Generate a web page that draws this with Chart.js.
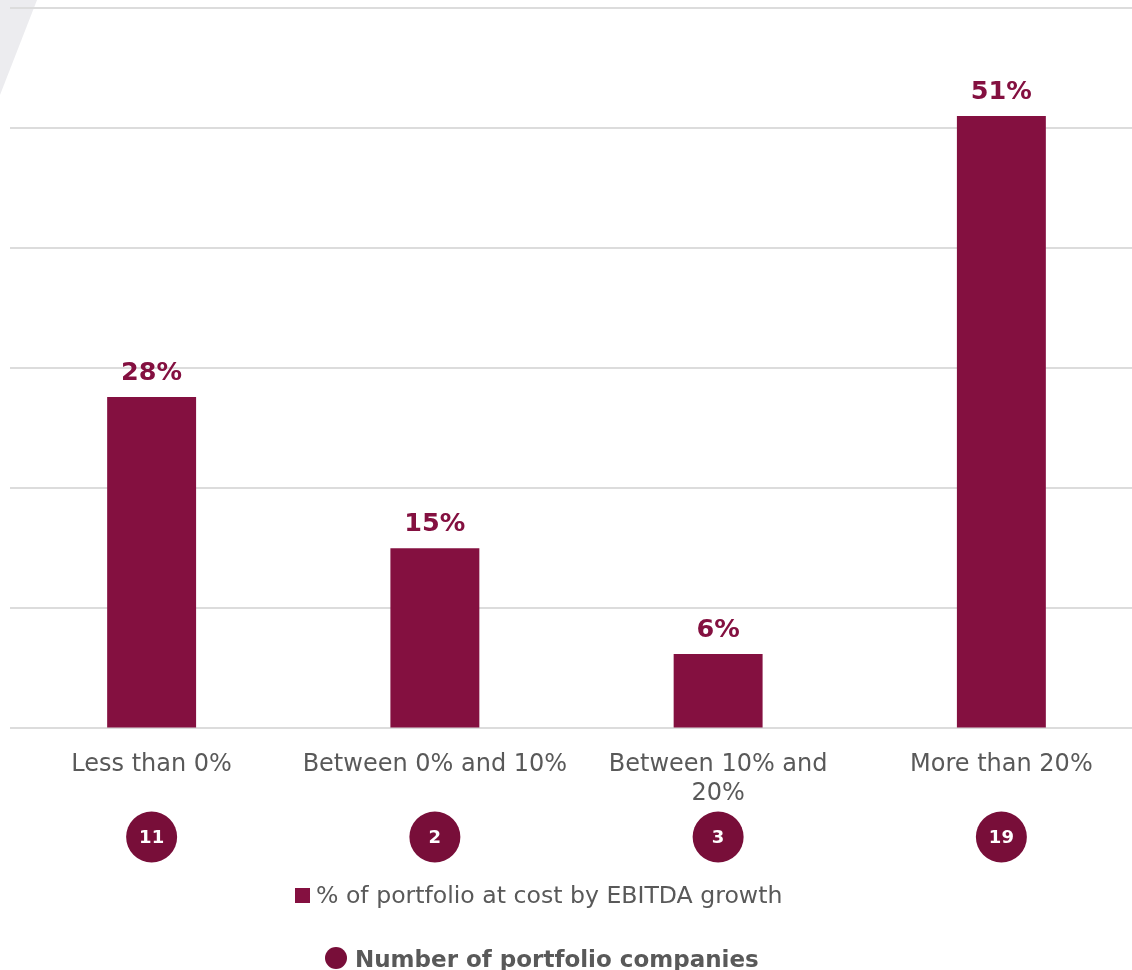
<!DOCTYPE html>
<html>
<head>
<meta charset="utf-8">
<script src="https://cdn.jsdelivr.net/npm/chart.js@4.4.0/dist/chart.umd.min.js"></script>
<style>
  html, body { margin: 0; padding: 0; background: #fff; overflow: hidden; }
  #wrap { width: 1144px; height: 970px; }
</style>
</head>
<body>
<div id="wrap"><canvas id="growthChart" width="1144" height="970"></canvas></div>
<script>
const categories = ['Less than 0%', 'Between 0% and 10%', ['Between 10% and', '20%'], 'More than 20%'];
const portfolioShare = [27.6, 15.0, 6.2, 51.0];
const shareLabels = ['28%', '15%', '6%', '51%'];
const companyCounts = [11, 2, 3, 19];
const yTicks = [0, 10, 20, 30, 40, 50, 60];

const BAR = '#841040';
const DOT = '#780e39';
const GREY = '#595959';
const FONT = '"DejaVu Sans"';

const extras = {
    id: 'extras',
    beforeDraw(chart) {
        // faint decorative stripe in the corner
        const ctx = chart.ctx;
        ctx.save();
        ctx.fillStyle = '#ececef';
        ctx.beginPath();
        ctx.moveTo(0, 0);
        ctx.lineTo(37, 0);
        ctx.lineTo(0, 95);
        ctx.closePath();
        ctx.fill();
        ctx.restore();
    },
    afterDatasetsDraw(chart) {
        const ctx = chart.ctx;
        const meta = chart.getDatasetMeta(0);
        ctx.save();
        ctx.textAlign = 'center';

        // value labels over bars
        ctx.font = 'bold 25.5px ' + FONT;
        ctx.fillStyle = BAR;
        ctx.textBaseline = 'alphabetic';
        meta.data.forEach((bar, i) => {
            ctx.fillText(shareLabels[i], bar.x, bar.y - 17);
        });

        // company count circles under the axis
        const xs = chart.scales.x;
        companyCounts.forEach((n, i) => {
            const x = xs.getPixelForValue(i);
            ctx.fillStyle = DOT;
            ctx.beginPath();
            ctx.arc(x, 837, 25.5, 0, Math.PI * 2);
            ctx.fill();
            ctx.fillStyle = '#fff';
            ctx.font = 'bold 18px ' + FONT;
            ctx.textBaseline = 'middle';
            ctx.fillText(String(n), x, 838);
        });

        // legend
        ctx.textAlign = 'left';
        ctx.textBaseline = 'alphabetic';
        ctx.fillStyle = BAR;
        ctx.fillRect(295, 888, 15, 15);
        ctx.fillStyle = GREY;
        ctx.font = '23.6px ' + FONT;
        ctx.fillText('% of portfolio at cost by EBITDA growth', 316, 903);

        ctx.fillStyle = DOT;
        ctx.beginPath();
        ctx.arc(336, 958, 11, 0, Math.PI * 2);
        ctx.fill();
        ctx.fillStyle = GREY;
        ctx.font = 'bold 23px ' + FONT;
        ctx.fillText('Number of portfolio companies', 355, 967);
        ctx.restore();
    }
};

new Chart(document.getElementById('growthChart'), {
    type: 'bar',
    data: {
        labels: categories,
        datasets: [{
            label: '% of portfolio at cost by EBITDA growth',
            data: portfolioShare,
            backgroundColor: BAR,
            categoryPercentage: 1,
            barPercentage: 0.314
        }]
    },
    options: {
        responsive: false,
        animation: false,
        layout: { padding: { left: 10, right: 1, top: 8, bottom: 148 } },
        plugins: { legend: { display: false }, tooltip: { enabled: false } },
        scales: {
            x: {
                grid: { display: false },
                border: { display: false },
                ticks: {
                    color: GREY,
                    font: { family: FONT, size: 24 },
                    padding: 14,
                    maxRotation: 0,
                    autoSkip: false
                }
            },
            y: {
                min: yTicks[0],
                max: yTicks[yTicks.length - 1],
                afterBuildTicks(scale) {
                    scale.ticks = yTicks.map(v => ({ value: v }));
                },
                border: { display: false },
                grid: { color: '#dcdcdc', lineWidth: 2, drawTicks: false },
                ticks: { display: false }
            }
        }
    },
    plugins: [extras]
});
</script>
</body>
</html>
